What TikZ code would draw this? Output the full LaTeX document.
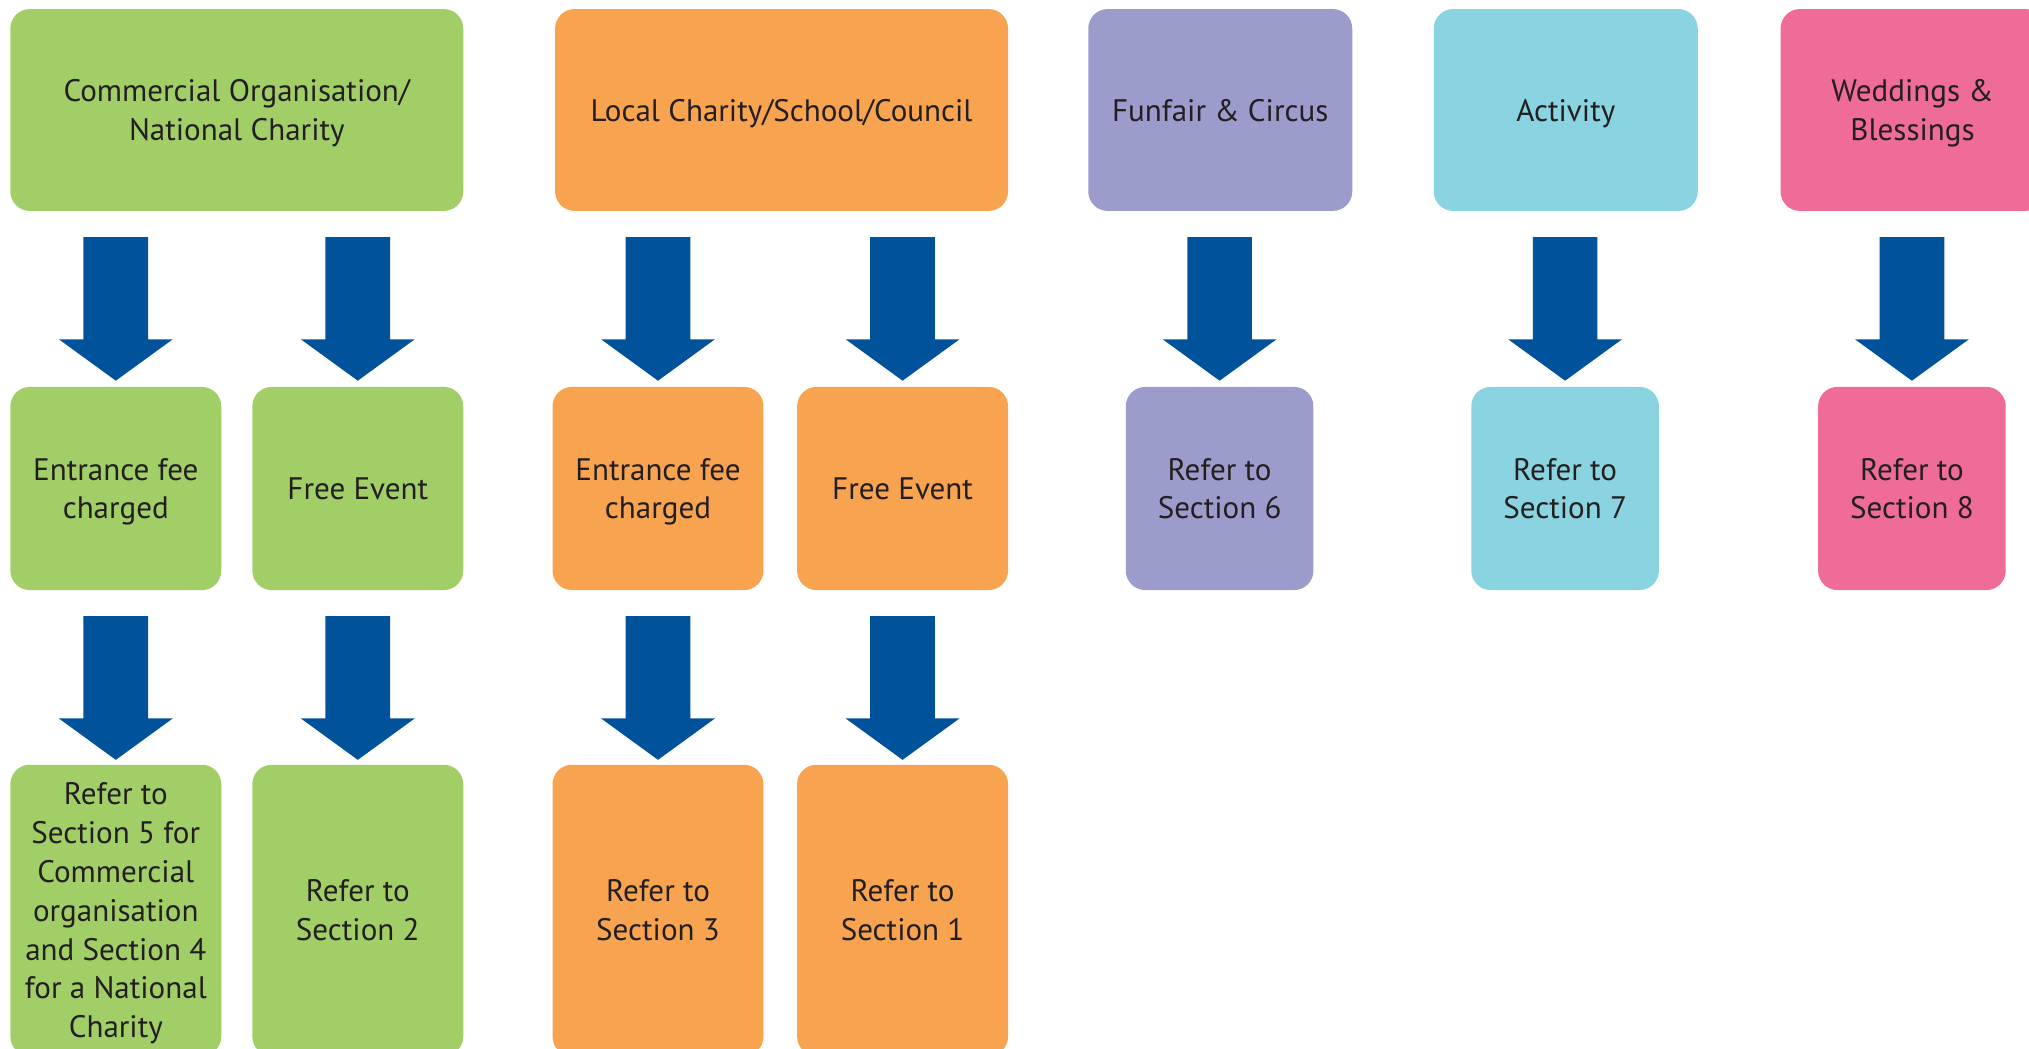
\documentclass[tikz,border=0pt]{standalone}
\usepackage{fontspec}
\setmainfont{PT Sans}
\usetikzlibrary{calc}
\definecolor{cgreen}{HTML}{A2CE68}
\definecolor{corange}{HTML}{F8A350}
\definecolor{cpurple}{HTML}{9C9CCC}
\definecolor{ccyan}{HTML}{8AD4E2}
\definecolor{cpink}{HTML}{F06C98}
\definecolor{cblue}{HTML}{00529B}
\definecolor{ctext}{HTML}{231F20}
\tikzset{
  box/.style={fill=#1, draw=none, rounded corners=15pt, align=center, text=ctext,
    font=\fontsize{24}{30}\selectfont, inner sep=0pt, text depth=-4pt},
  topbox/.style={box=#1, minimum height=156pt},
  midbox/.style={box=#1, minimum height=157pt},
  botbox/.style={box=#1, minimum height=225pt},
}
\newcommand\blockarrow[2]{%
  \fill[cblue] ($(#2.north |- #1.south)+(-25,20)$) -- ++(50,0) -- ++(0,79) -- ++(19,0)
    -- ($(#2.north |- #1.south)+(0,131)$) -- ($(#2.north |- #1.south)+(-44,99)$) -- ++(19,0) -- cycle;}
\begin{document}
\begin{tikzpicture}[x=1pt,y=-1pt]
\useasboundingbox (0,0) rectangle (1568,810);
\clip (0,0) rectangle (1568,810);
\fill[white] (0,0) rectangle (1568,810);
% top row
\node[topbox=cgreen, minimum width=350pt] (g0) at (183,85) {Commercial Organisation/\\National Charity};
\node[topbox=corange, minimum width=350pt] (o0) at (604,85) {Local Charity/School/Council};
\node[topbox=cpurple, minimum width=204pt] (p0) at (943,85) {Funfair \& Circus};
\node[topbox=ccyan, minimum width=204pt] (c0) at (1210,85) {Activity};
\node[topbox=cpink, minimum width=204pt] (k0) at (1478,85) {Weddings \&\\Blessings};
% middle row
\node[midbox=cgreen, minimum width=163pt] (g1) at (89.5,377.5) {Entrance fee\\charged};
\node[midbox=cgreen, minimum width=163pt] (g2) at (276.5,377.5) {Free Event};
\node[midbox=corange, minimum width=163pt] (o1) at (508.5,377.5) {Entrance fee\\charged};
\node[midbox=corange, minimum width=163pt] (o2) at (697.5,377.5) {Free Event};
\node[midbox=cpurple, minimum width=145pt] (p1) at (942.5,377.5) {Refer to\\Section 6};
\node[midbox=ccyan, minimum width=145pt] (c1) at (1209.5,377.5) {Refer to\\Section 7};
\node[midbox=cpink, minimum width=145pt] (k1) at (1477.5,377.5) {Refer to\\Section 8};
% bottom row
\node[botbox=cgreen, minimum width=163pt] (g3) at (89.5,703.5) {Refer to\\Section 5 for\\Commercial\\organisation\\and Section 4\\for a National\\Charity};
\node[botbox=cgreen, minimum width=163pt] (g4) at (276.5,703.5) {Refer to\\Section 2};
\node[botbox=corange, minimum width=163pt] (o3) at (508.5,703.5) {Refer to\\Section 3};
\node[botbox=corange, minimum width=163pt] (o4) at (697.5,703.5) {Refer to\\Section 1};
% arrows
\blockarrow{g0}{g1}
\blockarrow{g0}{g2}
\blockarrow{o0}{o1}
\blockarrow{o0}{o2}
\blockarrow{p0}{p1}
\blockarrow{c0}{c1}
\blockarrow{k0}{k1}
\blockarrow{g1}{g3}
\blockarrow{g2}{g4}
\blockarrow{o1}{o3}
\blockarrow{o2}{o4}
\end{tikzpicture}
\end{document}
